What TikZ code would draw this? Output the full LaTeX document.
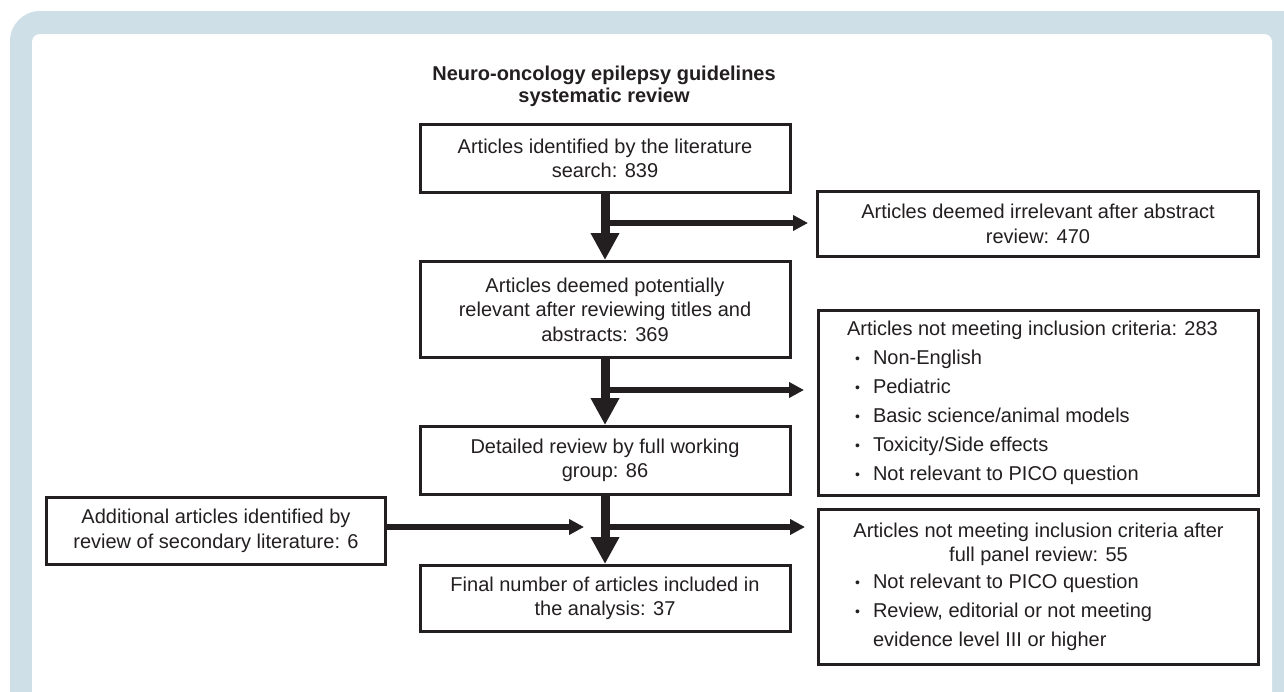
\documentclass[tikz,border=0pt]{standalone}
\usepackage{fontspec}
\setmainfont{Liberation Sans}
\usetikzlibrary{arrows.meta}
\definecolor{ink}{RGB}{35,31,32}
\definecolor{band}{RGB}{206,223,232}
\newcommand{\fsz}{\fontsize{20}{24.5}\selectfont}
\newcommand{\bul}{\hspace*{8pt}\makebox[18pt][l]{\raisebox{1.5pt}{\fontsize{14}{14}\selectfont •}}}
\tikzset{
  box/.style={draw=ink, line width=3pt, fill=white, align=center, font=\fsz, inner sep=0pt, text=ink},
  vflow/.style={draw=ink, line width=9pt, -{Triangle[length=27pt 0 0, width=27pt 0 0]}},
  hflow/.style={draw=ink, line width=6pt, -{Triangle[length=15pt 0 0, width=15pt 0 0]}},
}
\begin{document}
\begin{tikzpicture}[x=1pt, y=-1pt]
\useasboundingbox (0,0) rectangle (1284,691);
\clip (0,0) rectangle (1284,691);
\fill[white] (0,0) rectangle (1284,691);
\fill[band, rounded corners=30pt] (10,11) rectangle (1320,730);
\fill[white, rounded corners=8pt] (32,34) rectangle (1272,730);

\node[font=\bfseries\fontsize{20}{22}\selectfont, align=center, text=ink] (title) at (604,86)
  {Neuro-oncology epilepsy guidelines\\systematic review};

\node[box, minimum width=370pt, minimum height=68pt] (b1) at (605,158.5)
  {Articles identified by the literature\\search: 839};
\node[box, minimum width=441pt, minimum height=65pt] (irr) at (1038,224)
  {Articles deemed irrelevant after abstract\\review: 470};
\node[box, minimum width=370pt, minimum height=96pt] (b2) at (605,309.5)
  {Articles deemed potentially\\relevant after reviewing titles and\\abstracts: 369};
\node[box, minimum width=440pt, minimum height=185pt, align=left] (nm) at (1038.5,403)
  {\begin{minipage}{383pt}\fontsize{20}{29}\selectfont\raggedright
   Articles not meeting inclusion criteria: 283\\
   \bul Non-English\\
   \bul Pediatric\\
   \bul Basic science/animal models\\
   \bul Toxicity/Side effects\\
   \bul Not relevant to PICO question
   \end{minipage}};
\node[box, minimum width=370pt, minimum height=68pt] (b3) at (605,460.5)
  {Detailed review by full working\\group: 86};
\node[box, minimum width=339pt, minimum height=67pt] (add) at (216,531)
  {Additional articles identified by\\review of secondary literature: 6};
\node[box, minimum width=440pt, minimum height=155pt, align=left] (af) at (1038.5,587)
  {\begin{minipage}{383pt}\fontsize{20}{24}\selectfont
   {\centering Articles not meeting inclusion criteria after\\full panel review: 55\par}
   \vspace{3pt}\raggedright
   \bul Not relevant to PICO question\\[5pt]
   \bul Review, editorial or not meeting\\[5pt]
   \hspace*{26pt}evidence level III or higher
   \end{minipage}};
\node[box, minimum width=370pt, minimum height=66pt] (fin) at (605,598.5)
  {Final number of articles included in\\the analysis: 37};

\coordinate (j1) at (605,223);
\coordinate (j2) at (605,390);
\coordinate (j3) at (605,527);

\draw[hflow, shorten >=8pt] (j1) -- (j1 -| irr.west);
\draw[hflow, shorten >=13pt] (j2) -- (j2 -| nm.west);
\draw[hflow, shorten >=12pt] (j3) -- (j3 -| af.west);
\draw[hflow, shorten >=21pt] (j3 -| add.east) -- (j3);

\draw[vflow] (b1.south) -- (b2.north);
\draw[vflow] (b2.south) -- (b3.north);
\draw[vflow] (b3.south) -- (fin.north);
\end{tikzpicture}
\end{document}
